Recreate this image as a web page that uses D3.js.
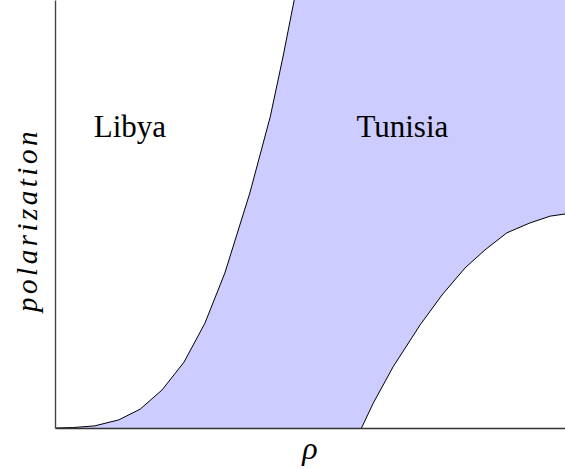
<!DOCTYPE html>
<html>
<head>
<meta charset="utf-8">
<script src="https://cdn.jsdelivr.net/npm/d3@7/dist/d3.min.js"></script>
<style>
  html, body { margin: 0; padding: 0; background: #fff; }
  svg { display: block; }
  .region-label { font-family: "Liberation Serif", "DejaVu Serif", serif; font-size: 31px; fill: #000; }
  .axis-label { font-family: "Liberation Serif", "DejaVu Serif", serif; font-style: italic; fill: #000; }
</style>
</head>
<body>
<svg id="chart" width="565" height="469"></svg>
<script>
// Lower boundary of the Tunisia region (left curve): rho vs. polarization
const leftRho = [0, 0.035, 0.078, 0.125, 0.167, 0.210, 0.253, 0.294, 0.333, 0.382, 0.422, 0.447, 0.469, 0.490];
const leftPol = [0, 0.001, 0.005, 0.019, 0.044, 0.089, 0.154, 0.245, 0.362, 0.549, 0.727, 0.867, 1.000, 1.140];

// Right boundary of the Tunisia region
const rightRho = [0.601, 0.624, 0.663, 0.716, 0.759, 0.804, 0.843, 0.886, 0.931, 0.971, 1.0];
const rightPol = [0, 0.058, 0.143, 0.241, 0.311, 0.374, 0.416, 0.456, 0.479, 0.495, 0.500];

// Region names and axis titles
const regionNames = ["Libya", "Tunisia"];
const regionAt = [[0.076, 0.68], [0.591, 0.68]];
const xTitle = "ρ";
const yTitle = "polarization";

const width = 565, height = 469;
const margin = { top: 0, right: 0, bottom: 41, left: 55 };
const innerW = width - margin.left - margin.right;
const innerH = height - margin.top - margin.bottom;

const x = d3.scaleLinear().domain([0, 1]).range([0, innerW]);
const y = d3.scaleLinear().domain([0, 1]).range([innerH, 0]);

const svg = d3.select("#chart");
const g = svg.append("g").attr("transform", `translate(${margin.left},${margin.top})`);

g.append("clipPath").attr("id", "plot-clip")
  .append("rect").attr("x", 0).attr("y", 0).attr("width", innerW).attr("height", innerH);

const left = leftRho.map((r, i) => [r, leftPol[i]]);
const right = rightRho.map((r, i) => [r, rightPol[i]]);

const line = d3.line().x(d => x(d[0])).y(d => y(d[1]));

// Shaded band between the two boundaries, closed through the top-right corner
const band = left.concat([[1, leftPol[leftPol.length - 1]]], right.slice().reverse());

const plot = g.append("g").attr("clip-path", "url(#plot-clip)");

plot.append("path")
  .datum(band)
  .attr("d", d => line(d) + "Z")
  .attr("fill", "#ccccff")
  .attr("stroke", "none");

plot.append("path")
  .datum(left)
  .attr("d", line)
  .attr("fill", "none")
  .attr("stroke", "#000")
  .attr("stroke-width", 1);

plot.append("path")
  .datum(right)
  .attr("d", line)
  .attr("fill", "none")
  .attr("stroke", "#000")
  .attr("stroke-width", 1);

// Axes (lines only, no ticks)
const xAxis = d3.axisBottom(x).tickValues([]).tickSizeOuter(0);
const yAxis = d3.axisLeft(y).tickValues([]).tickSizeOuter(0);

g.append("g").attr("transform", `translate(0,${innerH})`).call(xAxis)
  .select(".domain").attr("stroke", "#333").attr("stroke-width", 1.6);
g.append("g").call(yAxis)
  .select(".domain").attr("stroke", "#444").attr("stroke-width", 1.4);

// Region labels
g.selectAll("text.region-label")
  .data(regionNames)
  .join("text")
  .attr("class", "region-label")
  .attr("x", (d, i) => x(regionAt[i][0]))
  .attr("y", (d, i) => y(regionAt[i][1]))
  .text(d => d);

// Axis titles
svg.append("text")
  .attr("class", "axis-label")
  .attr("x", margin.left + innerW / 2)
  .attr("y", 459)
  .attr("text-anchor", "middle")
  .attr("font-size", 32)
  .text(xTitle);

svg.append("text")
  .attr("class", "axis-label")
  .attr("transform", `translate(37,220) rotate(-90)`)
  .attr("text-anchor", "middle")
  .attr("font-size", 29)
  .attr("letter-spacing", 3.5)
  .text(yTitle);
</script>
</body>
</html>
